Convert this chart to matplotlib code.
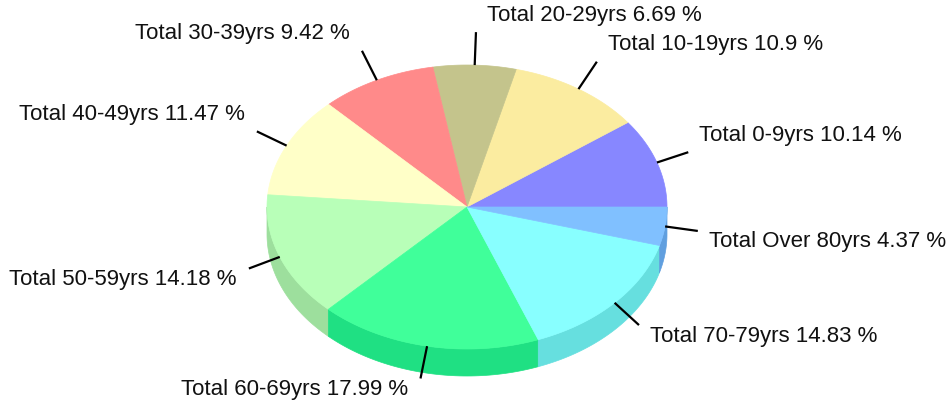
import matplotlib.pyplot as plt
from matplotlib.patches import Polygon
import numpy as np

labels = ['Total 0-9yrs', 'Total 10-19yrs', 'Total 20-29yrs', 'Total 30-39yrs',
          'Total 40-49yrs', 'Total 50-59yrs', 'Total 60-69yrs', 'Total 70-79yrs',
          'Total Over 80yrs']
values = [10.14, 10.9, 6.69, 9.42, 11.47, 14.18, 17.99, 14.83, 4.37]
pct_text = ['10.14', '10.9', '6.69', '9.42', '11.47', '14.18', '17.99', '14.83', '4.37']
top_colors = ['#8787ff', '#fbeca0', '#c4c48c', '#ff8a8a', '#ffffc8',
              '#b8ffb8', '#40ff9a', '#88ffff', '#80c0ff']
side_colors = ['#6d6de0', '#dccd85', '#a8a872', '#df6f6f', '#dfdfaa',
               '#9ddf9d', '#1fe083', '#66dfdf', '#609fdf']

# geometry in pixels
cx, cy = 467, 207
rx, ry = 200, 142
depth = 27
lead = 33

plt.rcParams['font.family'] = ['Liberation Sans', 'DejaVu Sans']
fig = plt.figure(figsize=(9.51, 4.03), dpi=100)
ax = fig.add_axes([0, 0, 1, 1])
ax.set_xlim(0, 951)
ax.set_ylim(403, 0)
ax.axis('off')


def edge(a):
    return cx + rx * np.cos(a), cy - ry * np.sin(a)


total = sum(values)
bounds = np.concatenate([[0], np.cumsum(values)]) / total * 2 * np.pi

# sides (front half only)
for i in range(len(values)):
    a0 = max(bounds[i], np.pi)
    a1 = min(bounds[i + 1], 2 * np.pi)
    if a1 <= a0:
        continue
    t = np.linspace(a0, a1, 60)
    x, y = edge(t)
    pts = np.concatenate([np.column_stack([x, y]),
                          np.column_stack([x[::-1], y[::-1] + depth])])
    ax.add_patch(Polygon(pts, closed=True, fc=side_colors[i], ec=side_colors[i], lw=0.5))

# tops
for i in range(len(values)):
    t = np.linspace(bounds[i], bounds[i + 1], 80)
    x, y = edge(t)
    pts = np.vstack([[cx, cy], np.column_stack([x, y])])
    ax.add_patch(Polygon(pts, closed=True, fc=top_colors[i], ec=top_colors[i], lw=0.5))

# leader lines and labels
for i in range(len(values)):
    m = (bounds[i] + bounds[i + 1]) / 2
    x0, y0 = edge(m)
    x1 = x0 + lead * np.cos(m)
    y1 = y0 - lead * np.sin(m)
    ax.plot([x0, x1], [y0, y1], color='black', lw=1.6, solid_capstyle='butt')
    if np.cos(m) >= 0:
        tx, ha = x1 + 11, 'left'
    else:
        tx, ha = x1 - 12, 'right'
    ty = y1 - 17 if np.sin(m) > 0 else y1 + 11
    ax.text(tx, ty, f'{labels[i]} {pct_text[i]} %', ha=ha, va='center',
            fontsize=16, color='#111111')

fig.savefig('out.png', dpi=100)
